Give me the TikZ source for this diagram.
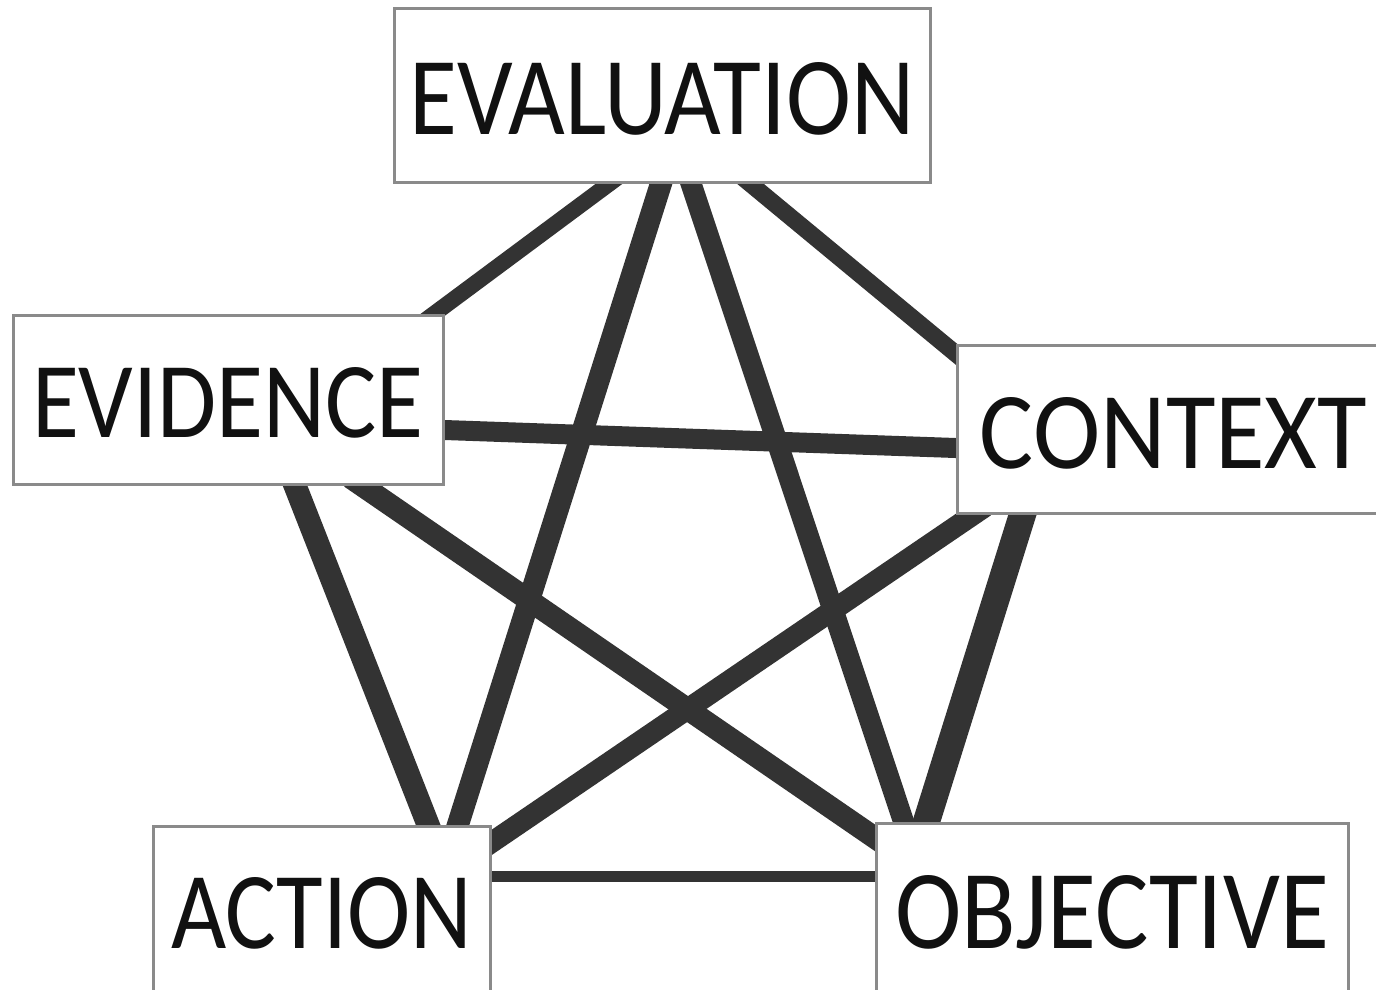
\documentclass[tikz,border=0pt]{standalone}
\usepackage{fontspec}
\setmainfont{Carlito}
\usepackage{graphicx}
\usetikzlibrary{calc}
\pgfdeclarelayer{back}
\pgfdeclarelayer{edges}
\pgfsetlayers{back,edges,main}
\newlength\pxu
\setlength\pxu{0.5pt}
% #1 text, #2 width px, #3 height px, #4 downward offset px
\newcommand\boxlabel[4]{\raisebox{\dimexpr-#3\pxu/2-#4\pxu\relax}[0pt][0pt]{\resizebox{#2\pxu}{#3\pxu}{#1}}}
\definecolor{boxgray}{HTML}{8A8A8A}
\definecolor{linegray}{HTML}{333333}
\definecolor{textblack}{HTML}{111111}
\tikzset{
  box/.style={draw=boxgray, line width=1.5pt, fill=white, inner sep=0pt, rectangle, text=textblack},
  edge/.style={draw=linegray, line cap=butt, shorten <=-7pt, shorten >=-7pt}
}
\begin{document}
\begin{tikzpicture}[x=0.5pt,y=-0.5pt]
\useasboundingbox (0,0) rectangle (1376,990);
\begin{pgfonlayer}{back}
\fill[white] (0,0) rectangle (1376,990);
\end{pgfonlayer}

\node[box, minimum width=536\pxu, minimum height=173\pxu] (eval) at (662,95.5)
  {\boxlabel{EVALUATION}{505}{72}{3.5}};
\node[box, minimum width=430\pxu, minimum height=169\pxu] (evid) at (228,399.5)
  {\boxlabel{EVIDENCE}{392}{70}{2.5}};
\node[box, minimum width=433\pxu, minimum height=168\pxu] (cont) at (1173.5,429)
  {\boxlabel{CONTEXT}{387}{71}{3.5}};
\node[box, minimum width=337\pxu, minimum height=173\pxu] (action) at (321.5,912.5)
  {\boxlabel{ACTION}{301}{71}{0}};
\node[box, minimum width=472\pxu, minimum height=177\pxu] (obj) at (1112,911.5)
  {\boxlabel{OBJECTIVE}{434}{73}{0}};

\begin{pgfonlayer}{edges}
\draw[edge, line width=8pt]   ($(eval.south)+(-52.5,0)$) -- ($(evid.north east)+(-10,0)$);
\draw[edge, line width=8.5pt] ($(eval.south)+(88,0)$)    -- ($(cont.north west)+(0,10)$);
\draw[edge, line width=11pt]  ($(eval.south)+(-1,0)$)    -- ($(action.north)+(136.5,0)$);
\draw[edge, line width=10.5pt]($(eval.south)+(29,0)$)    -- ($(obj.north west)+(29,0)$);
\draw[edge, line width=10pt]  ($(evid.east)+(0,30.5)$)   -- ($(cont.west)+(0,19)$);
\draw[edge, line width=11.5pt]($(evid.south)+(67,0)$)    -- ($(action.north)+(106.5,0)$);
\draw[edge, line width=11pt]  ($(evid.south)+(134,0)$)   -- ($(obj.north west)+(0,16)$);
\draw[edge, line width=10.5pt]($(cont.south west)+(18,0)$) -- ($(action.north east)+(0,18)$);
\draw[edge, line width=13.5pt]($(cont.south west)+(67,0)$) -- ($(obj.north west)+(52,0)$);
\draw[edge, line width=5.5pt] ($(action.north east)+(0,52)$) -- ($(obj.north west)+(0,55)$);
\end{pgfonlayer}
\end{tikzpicture}
\end{document}
